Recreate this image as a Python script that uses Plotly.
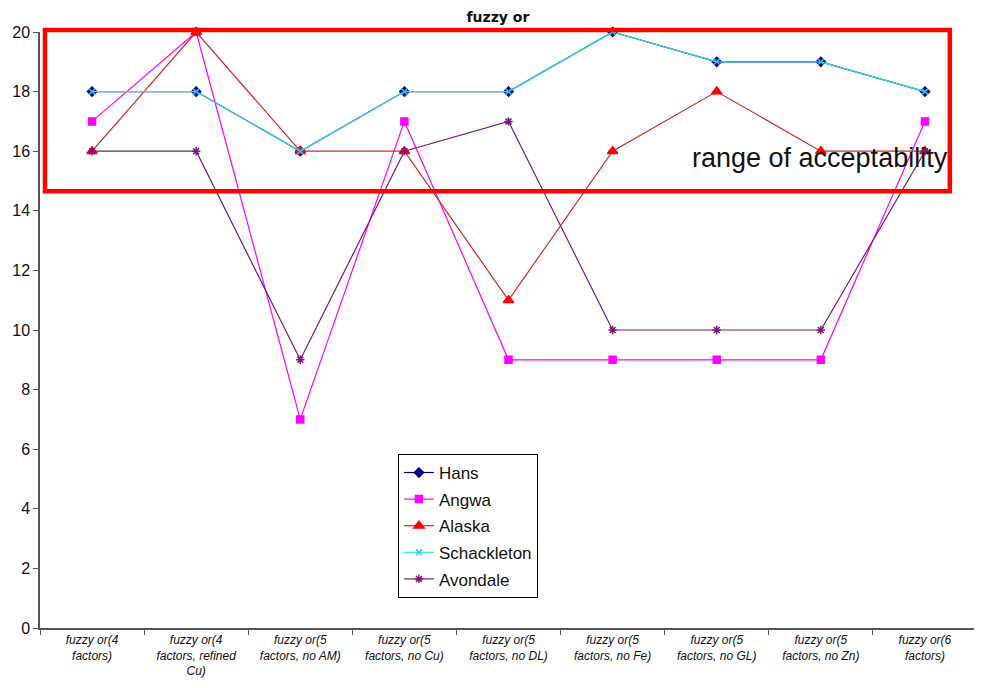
import plotly.graph_objects as go

categories = [
    "<i>fuzzy or(4<br>factors)</i>",
    "<i>fuzzy or(4<br>factors, refined<br>Cu)</i>",
    "<i>fuzzy or(5<br>factors, no AM)</i>",
    "<i>fuzzy or(5<br>factors, no Cu)</i>",
    "<i>fuzzy or(5<br>factors, no DL)</i>",
    "<i>fuzzy or(5<br>factors, no Fe)</i>",
    "<i>fuzzy or(5<br>factors, no GL)</i>",
    "<i>fuzzy or(5<br>factors, no Zn)</i>",
    "<i>fuzzy or(6<br>factors)</i>",
]
hans = [18, 18, 16, 18, 18, 20, 19, 19, 18]
angwa = [17, 20, 7, 17, 9, 9, 9, 9, 17]
alaska = [16, 20, 16, 16, 11, 16, 18, 16, 16]
schackleton = [18, 18, 16, 18, 18, 20, 19, 19, 18]
avondale = [16, 16, 9, 16, 17, 10, 10, 10, 16]

series = [
    ("Hans", hans, "#000080", "#000080", "diamond", 7),
    ("Angwa", angwa, "#FF00FF", "#FF00FF", "square", 7),
    ("Alaska", alaska, "#D02A2A", "#FF0000", "triangle-up", 9),
    ("Schackleton", schackleton, "#33E0E8", "#33C0D8", "x-thin-open", 6),
    ("Avondale", avondale, "#7A1A7A", "#7A1A7A", "asterisk-open", 7),
]

fig = go.Figure()
for i, (name, vals, lc, mc, sym, sz) in enumerate(series):
    fig.add_trace(go.Scatter(
        x=categories, y=vals, name=name, mode="lines+markers",
        line=dict(color=lc, width=1.2),
        marker=dict(color=mc, symbol=sym, size=sz, line=dict(color=mc, width=1.5)),
        cliponaxis=False, legendgroup="g%d" % i,
    ))

fig.add_shape(type="rect", xref="paper", yref="paper", x0=0.0053, x1=0.971, y0=0.733, y1=1.0034,
              line=dict(color="#FF0000", width=4.5), fillcolor="rgba(0,0,0,0)", layer="above")
fig.add_annotation(xref="paper", yref="paper", x=0.694, y=0.789, text="range of acceptability",
                   showarrow=False, xanchor="left", yanchor="middle",
                   font=dict(family="Liberation Sans, Arial", size=27, color="#111111"))

fig.update_layout(
    width=974, height=680,
    margin=dict(l=32, r=5, t=24, b=60),
    paper_bgcolor="white", plot_bgcolor="white",
    font=dict(family="Liberation Sans, Arial", color="#111111"),
    title=dict(text="<b>fuzzy or</b>", x=0.503, xanchor="center", y=0.9868, yanchor="middle",
               font=dict(family="DejaVu Sans", size=14, color="#111111")),
    showlegend=True,
    legend=dict(x=0.382, y=0.292, xanchor="left", yanchor="top",
                bordercolor="#000000", borderwidth=1, bgcolor="white",
                font=dict(size=17, color="#111111"), tracegroupgap=1.5,
                itemwidth=30),
    xaxis=dict(type="category", range=[-0.5, 8.5], showgrid=False, zeroline=False,
               showline=True, linecolor="#555555", linewidth=1.5,
               ticks="outside", tickson="boundaries", ticklen=5, tickcolor="#555555",
               tickfont=dict(size=12, color="#111111"), tickangle=0),
    yaxis=dict(range=[0, 20], dtick=2, showgrid=False, zeroline=False,
               showline=True, linecolor="#555555", linewidth=1.5,
               ticks="outside", ticklen=5, tickcolor="#555555",
               tickfont=dict(size=16, color="#111111")),
)

fig.write_html("out.html")
